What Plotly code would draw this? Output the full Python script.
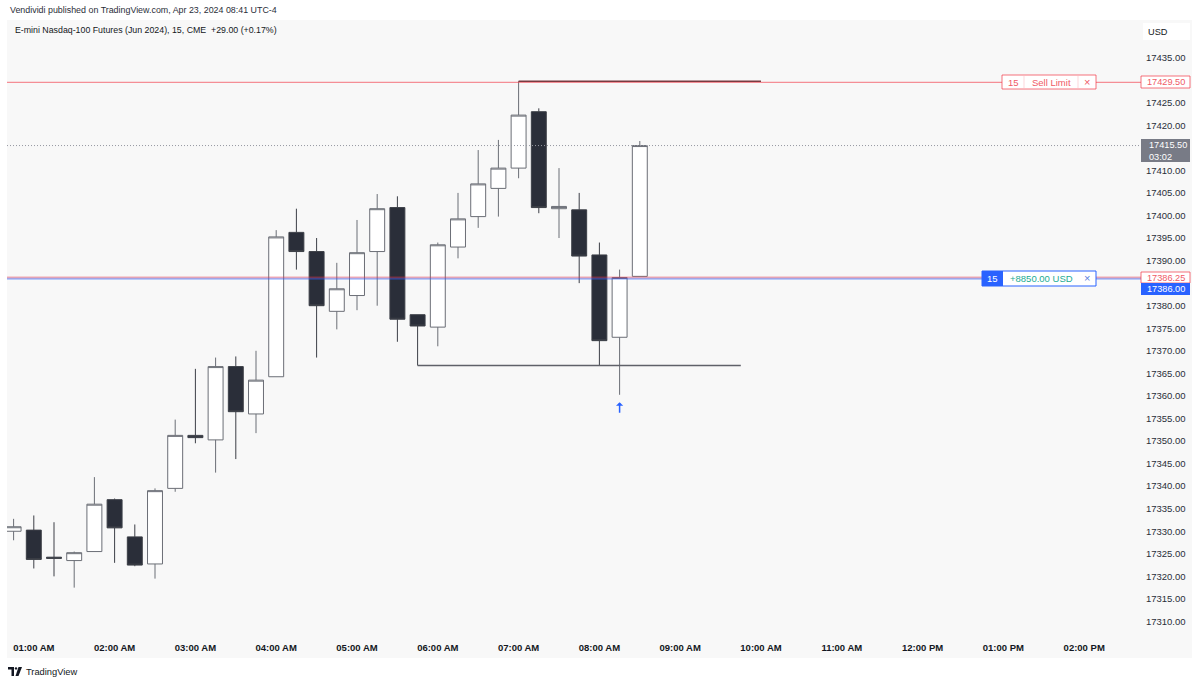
import plotly.graph_objects as go
import pandas as pd

# ---------------- data ----------------
TIMES = pd.date_range("2024-04-23 00:45", periods=32, freq="15min")
OPEN = [17330.0, 17330.25, 17324.25, 17323.5, 17325.5, 17337.0, 17328.75, 17322.75,
        17339.5, 17351.25, 17350.25, 17366.5, 17356.0, 17364.25, 17396.25, 17392.0,
        17378.75, 17382.25, 17392.0, 17401.75, 17378.0, 17375.25, 17393.0, 17399.75,
        17406.0, 17410.5, 17423.0, 17401.5, 17401.25, 17391.25, 17373.0, 17386.5]
HIGH = [17332.75, 17333.5, 17332.0, 17325.5, 17342.0, 17337.25, 17331.5, 17339.5,
        17354.75, 17366.0, 17368.5, 17368.75, 17370.0, 17396.75, 17401.5, 17395.0,
        17389.5, 17399.0, 17404.75, 17404.25, 17378.0, 17394.0, 17405.0, 17414.5,
        17416.75, 17429.75, 17423.75, 17410.5, 17405.0, 17394.0, 17388.0, 17416.5]
LOW = [17328.0, 17321.75, 17320.0, 17317.5, 17325.5, 17323.0, 17322.25, 17319.5,
       17338.75, 17349.5, 17343.0, 17346.0, 17351.75, 17364.25, 17388.0, 17368.5,
       17374.75, 17379.0, 17380.0, 17372.0, 17366.75, 17371.0, 17390.5, 17397.25,
       17399.75, 17408.25, 17400.5, 17395.0, 17385.0, 17366.75, 17360.25, 17386.5]
CLOSE = [17331.0, 17323.75, 17324.0, 17325.25, 17336.0, 17330.75, 17322.5, 17339.0,
         17351.25, 17350.75, 17366.5, 17356.5, 17363.5, 17395.25, 17392.0, 17380.0,
         17383.75, 17391.75, 17401.5, 17377.0, 17375.5, 17393.5, 17399.25, 17407.0,
         17410.5, 17422.25, 17401.75, 17402.0, 17391.0, 17372.25, 17386.25, 17415.5]

TIME_TICK_VALUES = ["2024-04-23 01:00", "2024-04-23 02:00", "2024-04-23 03:00", "2024-04-23 04:00",
                    "2024-04-23 05:00", "2024-04-23 06:00", "2024-04-23 07:00", "2024-04-23 08:00",
                    "2024-04-23 09:00", "2024-04-23 10:00", "2024-04-23 11:00", "2024-04-23 12:00",
                    "2024-04-23 13:00", "2024-04-23 14:00"]
TIME_TICK_LABELS = ["01:00 AM", "02:00 AM", "03:00 AM", "04:00 AM", "05:00 AM", "06:00 AM",
                    "07:00 AM", "08:00 AM", "09:00 AM", "10:00 AM", "11:00 AM", "12:00 PM",
                    "01:00 PM", "02:00 PM"]
PRICE_TICKS = [17435, 17425, 17420, 17410, 17405, 17400, 17395, 17390, 17380, 17375, 17370,
               17365, 17360, 17355, 17350, 17345, 17340, 17335, 17330, 17325, 17320, 17315, 17310]

SELL_LIMIT = 17429.50
LAST_PRICE = 17415.50
POS_RED = 17386.25
POS_BLUE = 17386.00
SUPPORT = 17366.75
RESIST_START = "2024-04-23 07:00"
RESIST_END = "2024-04-23 10:00"
SUPPORT_START = "2024-04-23 05:45"
SUPPORT_END = "2024-04-23 09:45"
ARROW_TIME = "2024-04-23 08:15"
ARROW_PRICE = 17358.6

# ---------------- layout geometry ----------------
W, H = 1200, 683
PL, PR, PT, PB = 7, 1138, 20, 636
FONT = "Liberation Sans, Arial, sans-serif"


def xp(px):
    return (px - PL) / (PR - PL)


def yp(py):
    return (PB - py) / (PB - PT)


fig = go.Figure()
fig.add_trace(go.Candlestick(
    x=TIMES, open=OPEN, high=HIGH, low=LOW, close=CLOSE,
    increasing=dict(fillcolor="#ffffff", line=dict(color="#6b6e76", width=1)),
    decreasing=dict(fillcolor="#2a2e39", line=dict(color="#3c3f47", width=1)),
    whiskerwidth=0, showlegend=False, hoverinfo="skip",
))

shapes = []
annotations = []

# pane background
shapes.append(dict(type="rect", xref="paper", yref="paper", x0=xp(7), x1=xp(1192),
                   y0=yp(658), y1=yp(20), fillcolor="#f8f8f8", line=dict(width=0), layer="below"))


def hline_paper(y, color, width, dash="solid", x0px=7, x1px=1141):
    shapes.append(dict(type="line", xref="paper", yref="y", x0=xp(x0px), x1=xp(x1px), y0=y, y1=y,
                       line=dict(color=color, width=width, dash=dash), layer="above"))


def rect(x0, y0, x1, y1, fill, line_color=None, lw=1):
    shapes.append(dict(type="rect", xref="paper", yref="paper", x0=xp(x0), x1=xp(x1),
                       y0=yp(y1), y1=yp(y0), fillcolor=fill,
                       line=dict(color=line_color or fill, width=lw if line_color else 0),
                       layer="above"))


def text(px, py, s, color, size=9.5, xanchor="center", weight="normal", align="center"):
    annotations.append(dict(xref="paper", yref="paper", x=xp(px), y=yp(py), text=s,
                            showarrow=False, xanchor=xanchor, yanchor="middle", align=align,
                            font=dict(family=FONT, size=size, color=color, weight=weight)))


# horizontal levels
hline_paper(SELL_LIMIT, "rgba(242,54,69,0.55)", 1.2)
hline_paper(LAST_PRICE, "#9598a1", 1, dash="1px,2px")
hline_paper(POS_RED, "rgba(242,54,69,0.4)", 2)
hline_paper(POS_BLUE, "rgba(41,98,255,0.4)", 2)

# drawn lines
shapes.append(dict(type="line", xref="x", yref="y", x0=RESIST_START, x1=RESIST_END,
                   y0=HIGH[25], y1=HIGH[25], line=dict(color="#7a3a40", width=1.6), layer="above"))
shapes.append(dict(type="line", xref="x", yref="y", x0=SUPPORT_START, x1=SUPPORT_END,
                   y0=SUPPORT, y1=SUPPORT, line=dict(color="#5f6169", width=1.5), layer="above"))

# sell limit order box
rect(1002, 75, 1096, 89, "#ffffff", "rgba(242,54,69,0.7)")
shapes.append(dict(type="line", xref="paper", yref="paper", x0=xp(1024), x1=xp(1024), y0=yp(88), y1=yp(76),
                   line=dict(color="rgba(242,54,69,0.2)", width=1), layer="above"))
shapes.append(dict(type="line", xref="paper", yref="paper", x0=xp(1078), x1=xp(1078), y0=yp(88), y1=yp(76),
                   line=dict(color="rgba(242,54,69,0.2)", width=1), layer="above"))
text(1013, 82, "15", "#ef5a66")
text(1051, 82, "Sell Limit", "#ef5a66")
text(1087, 82, "×", "#ef5a66", size=11)

# price axis label: sell limit
rect(1141, 76, 1190, 88, "#ffffff", "rgba(242,54,69,0.7)")
text(1165.5, 82, "17429.50", "#ef5a66", size=9.2)

# last price label
rect(1141, 139, 1190, 162, "#787b86")
text(1146.5, 150.5, "17415.50<br>03:02", "#ffffff", size=9.2, xanchor="left", align="left")

# position box
rect(982, 271, 1096, 286, "#ffffff", "#2962ff")
rect(982, 271, 1003, 286, "#2962ff")
text(992.5, 278.5, "15", "#ffffff")
text(1041, 278.5, "+8850.00 USD", "#22ab94")
text(1087, 278.5, "×", "#5b7fe0", size=11)

# position price labels
rect(1141, 272, 1190, 283, "#ffffff", "rgba(242,54,69,0.7)")
text(1165.5, 277.5, "17386.25", "#ef5a66", size=9.2)
rect(1141, 283, 1190, 295, "#2962ff")
text(1165.5, 289, "17386.00", "#ffffff", size=9.2)

# USD box
rect(1143, 23, 1190, 40, "#ffffff")
text(1158, 31.5, "USD", "#131722", size=9.2)

# header texts
text(8, 10, "Vendividi published on TradingView.com, Apr 23, 2024 08:41 UTC-4", "#2a2e39",
     size=8.9, xanchor="left")
text(13, 30, "E-mini Nasdaq-100 Futures (Jun 2024), 15, CME  +29.00 (+0.17%)", "#131722",
     size=8.8, xanchor="left")

# TradingView logo mark + text
shapes.append(dict(type="path", xref="paper", yref="paper", layer="above",
                   path=f"M {xp(8)},{yp(667)} L {xp(14)},{yp(667)} L {xp(14)},{yp(676)} L {xp(11.5)},{yp(676)} "
                        f"L {xp(11.5)},{yp(669.5)} L {xp(8)},{yp(669.5)} Z",
                   fillcolor="#131722", line=dict(width=0)))
shapes.append(dict(type="circle", xref="paper", yref="paper", layer="above",
                   x0=xp(14.8), x1=xp(17.2), y0=yp(669.6), y1=yp(667.2),
                   fillcolor="#131722", line=dict(width=0)))
shapes.append(dict(type="path", xref="paper", yref="paper", layer="above",
                   path=f"M {xp(18.5)},{yp(667)} L {xp(22)},{yp(667)} L {xp(18.5)},{yp(676)} L {xp(15.5)},{yp(676)} Z",
                   fillcolor="#131722", line=dict(width=0)))
text(24, 671.5, "TradingView", "#131722", size=9.3, xanchor="left")

# blue arrow under the low
annotations.append(dict(x=ARROW_TIME, y=ARROW_PRICE, xref="x", yref="y", text="", showarrow=True,
                        ax=0, ay=12, arrowhead=1, arrowsize=0.8, arrowwidth=1.5, arrowcolor="#2962ff"))

fig.update_layout(
    width=W, height=H,
    margin=dict(l=PL, r=W - PR, t=PT, b=H - PB, pad=0),
    paper_bgcolor="#ffffff", plot_bgcolor="rgba(0,0,0,0)",
    boxgap=0.26, boxgroupgap=0,
    showlegend=False,
    shapes=shapes, annotations=annotations,
    font=dict(family=FONT, color="#131722"),
    xaxis=dict(
        type="date",
        range=["2024-04-23 00:40:06", "2024-04-23 14:39:57"],
        rangeslider=dict(visible=False),
        tickmode="array", tickvals=TIME_TICK_VALUES, ticktext=TIME_TICK_LABELS,
        ticks="outside", ticklen=3, tickcolor="rgba(0,0,0,0)",
        tickfont=dict(family=FONT, size=9.5, color="#131722", weight="bold"),
        showgrid=False, zeroline=False, showline=False, fixedrange=True,
    ),
    yaxis=dict(
        side="right",
        range=[17306.78, 17443.33],
        tickmode="array", tickvals=PRICE_TICKS,
        tickformat=".2f",
        ticks="outside", ticklen=5, tickcolor="rgba(0,0,0,0)",
        tickfont=dict(family=FONT, size=9.5, color="#2a2e39"),
        showgrid=False, zeroline=False, showline=False, fixedrange=True,
    ),
)

fig.write_html("out.html", config={"displayModeBar": False})
